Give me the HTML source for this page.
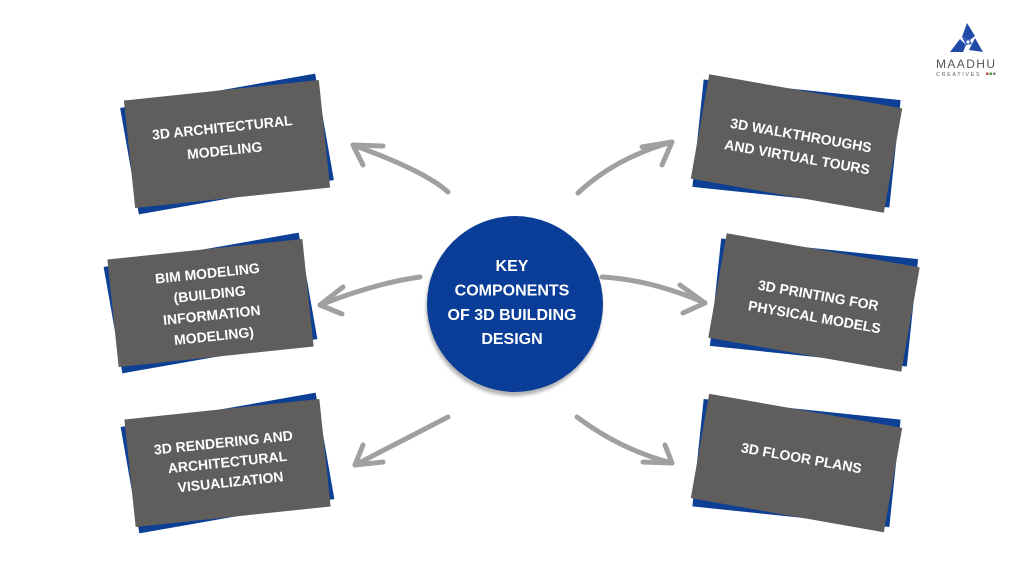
<!DOCTYPE html>
<html>
<head>
<meta charset="utf-8">
<style>
  html,body{margin:0;padding:0;background:#ffffff;}
  body{width:1024px;height:579px;overflow:hidden;}
  svg{display:block;}
  .bt{font-family:"Liberation Sans",Arial,sans-serif;font-weight:bold;font-size:14px;fill:#ffffff;text-anchor:middle;}
  .ct{font-family:"Liberation Sans",Arial,sans-serif;font-weight:bold;font-size:16px;fill:#ffffff;text-anchor:middle;}
  .ar{fill:none;stroke:#a0a09e;stroke-width:5;stroke-linecap:round;stroke-linejoin:round;}
</style>
</head>
<body>
<svg width="1024" height="579" viewBox="0 0 1024 579" xmlns="http://www.w3.org/2000/svg">
  <defs>
    <filter id="blur1" x="-20%" y="-20%" width="140%" height="140%">
      <feGaussianBlur stdDeviation="1.5"/>
    </filter>
  </defs>

  <!-- Box 1: 3D Architectural Modeling -->
  <g transform="translate(227,144)">
    <rect x="-99" y="-54" width="198" height="108" fill="#0d3f94" transform="rotate(-10)"/>
    <g transform="rotate(-6)">
      <rect x="-98" y="-54" width="196" height="108" fill="#5f5e5c"/>
      <text class="bt" x="-3" y="-12">3D ARCHITECTURAL</text>
      <text class="bt" x="-3" y="11">MODELING</text>
    </g>
  </g>

  <!-- Box 2: 3D Walkthroughs -->
  <g transform="translate(796.5,143.5)">
    <rect x="-99" y="-54" width="198" height="108" fill="#0d3f94" transform="rotate(6)"/>
    <g transform="rotate(10)">
      <rect x="-98" y="-53" width="196" height="106" fill="#5f5e5c"/>
      <text class="bt" x="3" y="-4">3D WALKTHROUGHS</text>
      <text class="bt" x="3" y="18">AND VIRTUAL TOURS</text>
    </g>
  </g>

  <!-- Box 3: BIM Modeling -->
  <g transform="translate(210.5,303)">
    <rect x="-99" y="-54" width="198" height="108" fill="#0d3f94" transform="rotate(-10)"/>
    <g transform="rotate(-6)">
      <rect x="-98" y="-54" width="196" height="108" fill="#5f5e5c"/>
      <text class="bt" x="0" y="-25">BIM MODELING</text>
      <text class="bt" x="0" y="-4">(BUILDING</text>
      <text class="bt" x="0" y="17">INFORMATION</text>
      <text class="bt" x="0" y="38">MODELING)</text>
    </g>
  </g>

  <!-- Box 4: 3D Printing -->
  <g transform="translate(814,302.5)">
    <rect x="-99" y="-54" width="198" height="108" fill="#0d3f94" transform="rotate(6)"/>
    <g transform="rotate(10)">
      <rect x="-98" y="-53" width="196" height="106" fill="#5f5e5c"/>
      <text class="bt" x="3" y="-3">3D PRINTING FOR</text>
      <text class="bt" x="3" y="19">PHYSICAL MODELS</text>
    </g>
  </g>

  <!-- Box 5: 3D Rendering -->
  <g transform="translate(227.5,463)">
    <rect x="-99" y="-54" width="198" height="108" fill="#0d3f94" transform="rotate(-10)"/>
    <g transform="rotate(-6)">
      <rect x="-98" y="-54" width="196" height="108" fill="#5f5e5c"/>
      <text class="bt" x="-2" y="-16">3D RENDERING AND</text>
      <text class="bt" x="0" y="4">ARCHITECTURAL</text>
      <text class="bt" x="1" y="24">VISUALIZATION</text>
    </g>
  </g>

  <!-- Box 6: 3D Floor Plans -->
  <g transform="translate(796.5,463)">
    <rect x="-99" y="-54" width="198" height="108" fill="#0d3f94" transform="rotate(6)"/>
    <g transform="rotate(10)">
      <rect x="-98" y="-53" width="196" height="106" fill="#5f5e5c"/>
      <text class="bt" x="4" y="-1">3D FLOOR PLANS</text>
    </g>
  </g>

  <!-- Arrows -->
  <path class="ar" d="M448,192 Q425,171 353,145"/>
  <path class="ar" d="M383,146 L353,145 L363,165"/>

  <path class="ar" d="M578,193 Q615,158 672,142"/>
  <path class="ar" d="M642,147 L672,142 L662,165"/>

  <path class="ar" d="M420,277 Q376,283 320,305"/>
  <path class="ar" d="M343,287 L320,305 L342,314"/>

  <path class="ar" d="M602,277 Q652,280 705,303"/>
  <path class="ar" d="M680,285 L705,303 L683,313"/>

  <path class="ar" d="M448,417 Q398,443 355,465"/>
  <path class="ar" d="M363,445 L355,465 L383,462"/>

  <path class="ar" d="M577,417 Q621,450 672,463"/>
  <path class="ar" d="M665,445 L672,463 L643,462"/>

  <!-- Center circle -->
  <circle cx="514" cy="308" r="88" fill="#b4b4b4" filter="url(#blur1)"/>
  <circle cx="515" cy="304" r="88" fill="#0a3d98"/>
  <text class="ct" x="512" y="271">KEY</text>
  <text class="ct" x="512" y="295.5">COMPONENTS</text>
  <text class="ct" x="512" y="320">OF 3D BUILDING</text>
  <text class="ct" x="512" y="344">DESIGN</text>

  <!-- Logo -->
  <g>
    <polygon points="967,23 975,36 970,40 962,37" fill="#1f4aa8"/>
    <polygon points="975,38 983,52 969,50 972,44" fill="#1f4aa8"/>
    <polygon points="960,39 966,45 963,52 950,52" fill="#1f4aa8"/>
    <polygon points="962,37 970,40 972,44 966,45" fill="#2c58b8"/>
    <circle cx="968" cy="42" r="1.6" fill="#ffffff"/>
    <text x="936" y="68" font-family="'Liberation Sans',Arial,sans-serif" font-size="12" fill="#555555" letter-spacing="1.4">MAADHU</text>
    <text x="936" y="76" font-family="'Liberation Sans',Arial,sans-serif" font-size="5.5" fill="#666666" letter-spacing="1.6">CREATIVES</text>
    <rect x="986" y="72.5" width="2.5" height="2.5" fill="#d14b3c"/>
    <rect x="989.5" y="72.5" width="2.5" height="2.5" fill="#4a9a4a"/>
    <rect x="993" y="72.5" width="2.5" height="2.5" fill="#888888"/>
  </g>
</svg>
</body>
</html>
